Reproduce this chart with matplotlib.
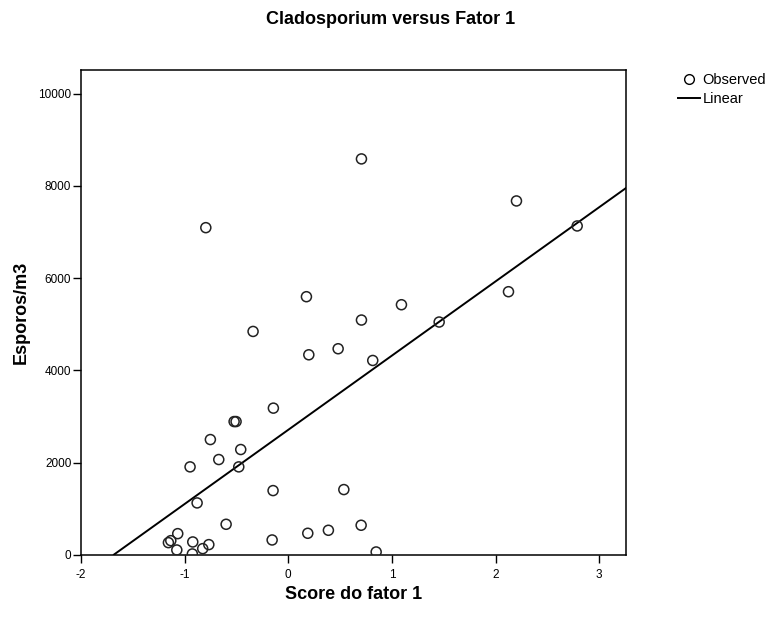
import numpy as np
import matplotlib.pyplot as plt
from matplotlib.lines import Line2D

plt.rcParams['font.family'] = ['Liberation Sans', 'DejaVu Sans']
plt.rcParams['axes.unicode_minus'] = False

# factor 1 scores and spore counts (esporos/m3)
score_fator1 = [-0.144, -0.523, -0.504, -0.752, -0.459, -0.671, -0.948, -0.478,
                -0.147, 0.536, -0.880, -0.600, -1.067, -1.157, -1.134, -0.922,
                -1.076, -0.926, -0.826, -0.767, -0.156, 0.188, 0.387, 0.703,
                0.848, 0.706, -0.796, 0.175, -0.340, 1.092, 0.706, 0.198,
                0.481, 0.815, 1.456, 2.202, 2.788, 2.125]
esporos = [3182, 2891, 2891, 2501, 2285, 2068, 1909, 1909,
           1395, 1417, 1128, 665, 462, 267, 310, 282,
           108, 22, 137, 224, 325, 470, 535, 644,
           65, 8583, 7093, 5597, 4844, 5423, 5091, 4338,
           4469, 4215, 5048, 7672, 7130, 5705]

x = np.array(score_fator1)
y = np.array(esporos)
slope, intercept = np.polyfit(x, y, 1)

fig = plt.figure(figsize=(7.72, 6.18), dpi=100)
ax = fig.add_axes([0.105, 0.102, 0.706, 0.784])

xmin, xmax = -2, 3.26
ymin, ymax = 0, 10500

# linear fit clipped to the visible window
xl = np.linspace(xmin, xmax, 200)
yl = intercept + slope * xl
keep = yl >= ymin
ax.plot(xl[keep], yl[keep], color='black', lw=1.4, zorder=2)

ax.scatter(x, y, s=52, facecolors='none', edgecolors='#222222', linewidths=1.1, zorder=3)

ax.set_xlim(xmin, xmax)
ax.set_ylim(ymin, ymax)
ax.set_xticks([-2, -1, 0, 1, 2, 3])
ax.set_yticks([0, 2000, 4000, 6000, 8000, 10000])
ax.tick_params(direction='out', length=6, width=1, labelsize=8.5)
ax.tick_params(axis='y', pad=1)
ax.tick_params(axis='x', pad=4)
for s in ax.spines.values():
    s.set_linewidth(1.1)

ax.set_xlabel('Score do fator 1', fontsize=13, fontweight='bold', labelpad=4)
ax.set_ylabel('Esporos/m3', fontsize=13, fontweight='bold', labelpad=6)
fig.text(266 / 772, 1 - 19 / 618, 'Cladosporium versus Fator 1', fontsize=13,
         fontweight='bold', ha='left', va='center')

handles = [Line2D([], [], marker='o', ls='none', mfc='none', mec='black', ms=7),
           Line2D([], [], color='black', lw=1.4)]
fig.legend(handles, ['Observed', 'Linear'], loc='upper left',
           bbox_to_anchor=(671 / 772, 1 - 66 / 618), frameon=False, fontsize=10.5,
           handlelength=1.5, handletextpad=0.15, labelspacing=0.3, borderpad=0)

plt.savefig('out.png', dpi=100)
